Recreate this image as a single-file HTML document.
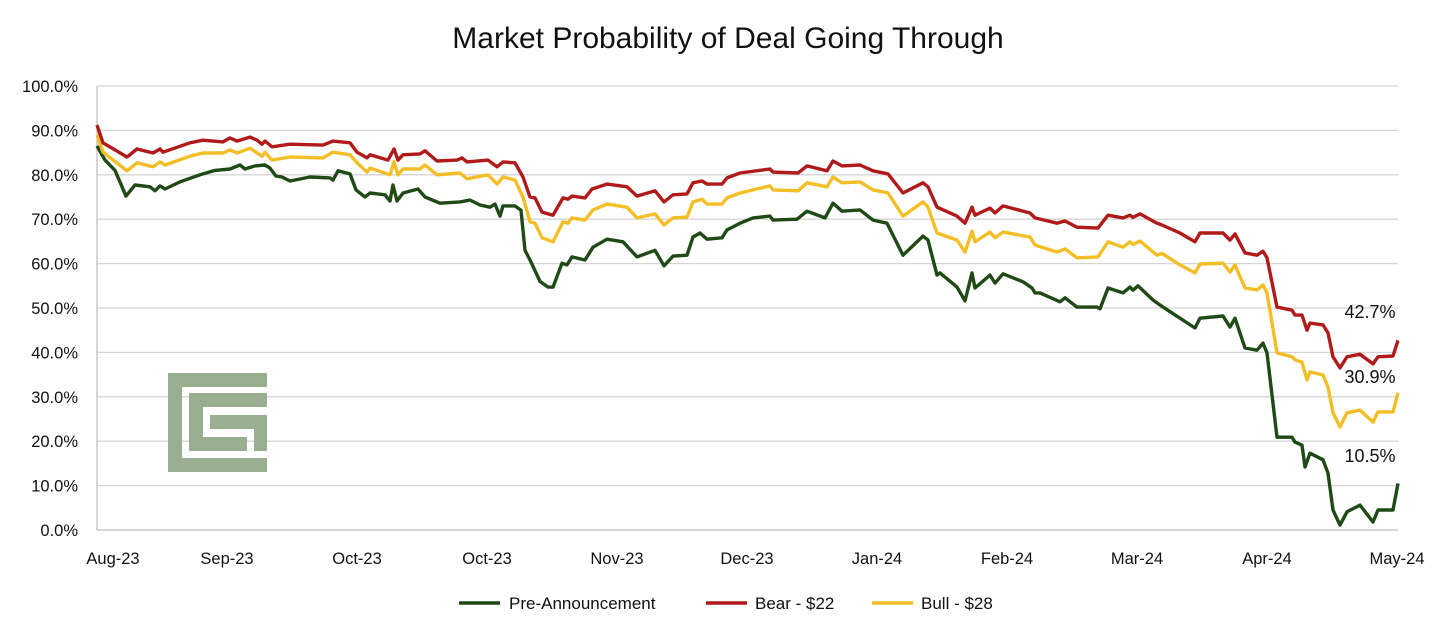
<!DOCTYPE html>
<html><head><meta charset="utf-8"><style>
body{margin:0;background:#fff;}
svg{display:block;font-family:"Liberation Sans",Calibri,sans-serif;}
</style></head><body>
<svg id="chart" width="1456" height="638" viewBox="0 0 1456 638">
<text x="728" y="48" text-anchor="middle" font-size="30" fill="#111">Market Probability of Deal Going Through</text>
<g id="grid"></g>
<g id="logo" fill="#9aae92">
<rect x="168" y="373" width="14" height="99"/><rect x="168" y="373" width="99" height="14"/><rect x="168" y="458" width="99" height="14"/>
<rect x="189" y="393" width="14" height="58"/><rect x="189" y="393" width="78" height="14"/><rect x="189" y="437" width="58" height="14"/>
<rect x="254" y="415" width="13" height="36"/><rect x="210" y="415" width="57" height="14"/>
</g>
<g id="series"></g>
<g id="labels" font-size="18" fill="#111">
<text x="1370" y="318" text-anchor="middle">42.7%</text>
<text x="1370" y="383" text-anchor="middle">30.9%</text>
<text x="1370" y="462" text-anchor="middle">10.5%</text>
</g>
<g id="legend" font-size="17" fill="#111">
<g><line x1="459" y1="603" x2="500" y2="603" stroke="#1f4a16" stroke-width="3.5"/><text x="509" y="609">Pre-Announcement</text></g>
<g><line x1="706" y1="603" x2="747" y2="603" stroke="#b11a1a" stroke-width="3.5"/><text x="755" y="609">Bear - $22</text></g>
<g><line x1="872" y1="603" x2="913" y2="603" stroke="#f4be27" stroke-width="3.5"/><text x="921" y="609">Bull - $28</text></g>
</g>
</svg>
<script>
const yTicks=[0,10,20,30,40,50,60,70,80,90,100];
const xTickLabels=["Aug-23","Sep-23","Oct-23","Oct-23","Nov-23","Dec-23","Jan-24","Feb-24","Mar-24","Apr-24","May-24"];
const xTickDays=[113,227,357,487,617,747,877,1007,1137,1267,1397];
const preDays=[97,105,115,126,135,150,155,160,165,180,
200,215,230,240,245,255,265,270,276,282,
290,310,330,333,338,350,356,365,370,385,
390,393,397,403,418,425,440,460,470,480,
490,495,500,503,515,521,525,530,540,548,
553,562,567,572,585,593,607,623,637,655,
664,673,687,693,700,707,722,727,735,740,
753,770,773,797,807,825,833,842,860,873,
887,903,923,928,937,940,957,965,972,975,
990,995,1003,1023,1032,1035,1040,1060,1065,1077,
1097,1100,1108,1123,1130,1133,1138,1153,1163,1180,
1195,1200,1223,1230,1235,1245,1257,1263,1267,1277,
1292,1295,1302,1305,1310,1323,1328,1333,1340,1347,
1360,1373,1378,1393,1398];
const preVals=[86.5,83.3,81,75.2,77.7,77.3,76.4,77.5,76.8,78.4,
80,81,81.3,82.2,81.3,82,82.2,81.5,79.7,79.5,
78.6,79.5,79.3,78.8,80.9,80.2,76.6,75,75.9,75.5,
74.1,77.7,74.1,75.9,76.8,75,73.6,73.9,74.3,73.2,
72.7,73.4,70.7,73,73,72,63,60.8,56,54.7,
54.7,60.1,59.7,61.5,60.8,63.7,65.5,64.9,61.5,63,
59.5,61.7,61.9,66,66.9,65.5,65.8,67.6,68.5,69.1,
70.3,70.7,69.8,70,71.8,70.3,73.6,71.8,72.1,69.8,
69.1,61.9,66.2,65.3,57.4,57.9,54.7,51.6,57.9,54.5,
57.4,55.6,57.7,55.9,54.5,53.4,53.4,51.4,52.3,50.2,
50.2,49.8,54.5,53.4,54.7,54,55,51.8,50.2,47.7,
45.5,47.7,48.2,45.7,47.7,41,40.5,42.1,39.9,20.9,
20.9,19.8,19.1,14.2,17.3,15.8,12.8,4.5,1.1,4.1,
5.6,1.8,4.5,4.5,10.5];
const bearDays=[97,103,127,137,153,160,163,190,203,223,
230,237,250,257,262,265,272,290,323,333,
350,357,367,370,388,394,398,403,420,425,
437,457,462,467,488,497,503,515,523,530,
535,542,553,563,568,572,585,592,607,627,
637,655,664,673,687,693,702,707,722,727,
740,770,773,798,807,827,833,842,860,873,
888,903,923,928,937,957,965,972,975,990,
995,1003,1030,1035,1057,1065,1077,1098,1108,1123,
1130,1133,1140,1157,1162,1180,1195,1200,1223,1230,
1235,1245,1257,1263,1267,1277,1292,1295,1302,1307,
1310,1323,1328,1333,1340,1347,1360,1373,1378,1393,
1398];
const bearVals=[91.2,87.2,84,85.8,84.9,85.8,85.1,87.2,87.8,87.4,
88.3,87.6,88.5,87.8,86.9,87.6,86.3,86.9,86.7,87.6,
87.2,85.1,83.8,84.5,83.3,85.8,83.3,84.5,84.7,85.4,
83.1,83.3,83.8,82.9,83.3,81.8,82.9,82.7,79.5,75,
74.8,71.6,70.9,74.8,74.5,75.2,74.8,76.8,77.9,77.3,
75.2,76.4,73.9,75.5,75.7,78.2,78.6,77.9,77.9,79.3,
80.4,81.3,80.6,80.4,82,80.9,83.1,82,82.2,80.9,
80.2,75.9,78.2,77.3,72.7,70.7,69.1,72.7,70.9,72.5,
71.4,73,71.4,70.3,69.1,69.6,68.2,68,70.9,70.3,
70.9,70.4,71.2,69.1,68.7,66.9,64.9,66.9,66.9,65.3,
66.7,62.4,61.9,62.8,61.3,50.2,49.5,48.4,48.4,45,
46.6,46.2,44.4,39,36.5,39,39.6,37.4,39,39.2,
42.7];
const bullDays=[97,103,127,137,153,160,165,190,203,223,
230,237,250,262,265,272,290,323,333,350,
357,367,370,390,394,398,403,420,425,437,
460,467,488,497,503,515,523,530,535,542,
553,563,568,572,585,593,607,627,637,655,
664,673,687,693,702,707,722,727,740,770,
773,798,807,827,833,842,860,873,888,903,
923,928,937,957,965,972,975,990,995,1003,
1030,1035,1057,1065,1077,1098,1108,1123,1130,1133,
1140,1157,1162,1180,1195,1200,1223,1230,1235,1245,
1257,1263,1267,1277,1292,1295,1302,1307,1310,1323,
1328,1333,1340,1347,1360,1373,1378,1393,1398];
const bullVals=[89,85.1,80.9,82.7,81.8,82.9,82.2,84.2,84.9,84.9,
85.6,84.9,86,84.2,85.1,83.3,84,83.8,85.1,84.5,
82.7,80.6,81.5,80,82.9,80,81.3,81.3,82.2,80,
80.4,79.1,80,77.9,79.5,78.8,75,69.4,69.1,65.8,
64.9,69.4,69.1,70.3,69.8,72.1,73.4,72.7,70.3,71.2,
68.7,70.3,70.5,73.9,74.5,73.4,73.4,74.8,75.9,77.5,
76.6,76.4,78.2,77.3,79.5,78.2,78.4,76.6,75.9,70.7,
73.9,72.7,66.9,65.3,62.6,67.3,64.9,67.1,65.8,67.1,
66,64.2,62.6,63.3,61.3,61.5,64.9,63.7,64.9,64.3,
65.1,61.9,62.3,59.7,57.9,59.9,60.1,58.1,59.7,54.5,
54.1,55.2,53.4,39.9,39,38.3,37.8,33.8,35.6,34.9,
32.2,26.4,23.2,26.4,27,24.3,26.6,26.6,30.9];

const NS="http://www.w3.org/2000/svg";
const X0=97,X1=1398,Y0=530,Y1=86,D0=97,D1=1398;
function xs(d){return X0+(X1-X0)*(d-D0)/(D1-D0);}
function ys(v){return Y0-(Y0-Y1)*v/100;}
const grid=document.getElementById('grid');
yTicks.forEach(t=>{
  const l=document.createElementNS(NS,'line');
  l.setAttribute('x1',X0);l.setAttribute('x2',X1);l.setAttribute('y1',ys(t));l.setAttribute('y2',ys(t));
  l.setAttribute('stroke',t===0?'#bfbfbf':'#d4d4d4');l.setAttribute('stroke-width','1.3');
  
  
  grid.appendChild(l);
  const tx=document.createElementNS(NS,'text');
  tx.setAttribute('x',78);tx.setAttribute('y',ys(t)+6);tx.setAttribute('text-anchor','end');tx.setAttribute('font-size','16.5');tx.setAttribute('fill','#111');
  tx.textContent=t.toFixed(1)+'%';
  
  
  grid.appendChild(tx);
});
const ax=document.createElementNS(NS,'line');
ax.setAttribute('x1',X0);ax.setAttribute('x2',X0);ax.setAttribute('y1',Y1);ax.setAttribute('y2',Y0);
ax.setAttribute('stroke','#bfbfbf');ax.setAttribute('stroke-width','1.3');


grid.appendChild(ax);
xTickLabels.forEach((lab,i)=>{
  const tx=document.createElementNS(NS,'text');
  tx.setAttribute('x',xs(xTickDays[i]));tx.setAttribute('y',564);tx.setAttribute('text-anchor','middle');tx.setAttribute('font-size','16.5');tx.setAttribute('fill','#111');
  tx.textContent=lab;
  
  
  grid.appendChild(tx);
});
const ser=document.getElementById('series');
function draw(days,vals,color,name){
  const p=document.createElementNS(NS,'path');
  p.setAttribute('d',days.map((d,i)=>(i?'L':'M')+xs(d).toFixed(1)+' '+ys(vals[i]).toFixed(1)).join(' '));
  p.setAttribute('fill','none');p.setAttribute('stroke',color);p.setAttribute('stroke-width','3.4');p.setAttribute('stroke-linejoin','round');
  
  
  ser.appendChild(p);
}
draw(preDays,preVals,'#1f4a16','pre-announcement-line');
draw(bullDays,bullVals,'#f4be27','bull-line');
draw(bearDays,bearVals,'#b11a1a','bear-line');
</script>
</body></html>
